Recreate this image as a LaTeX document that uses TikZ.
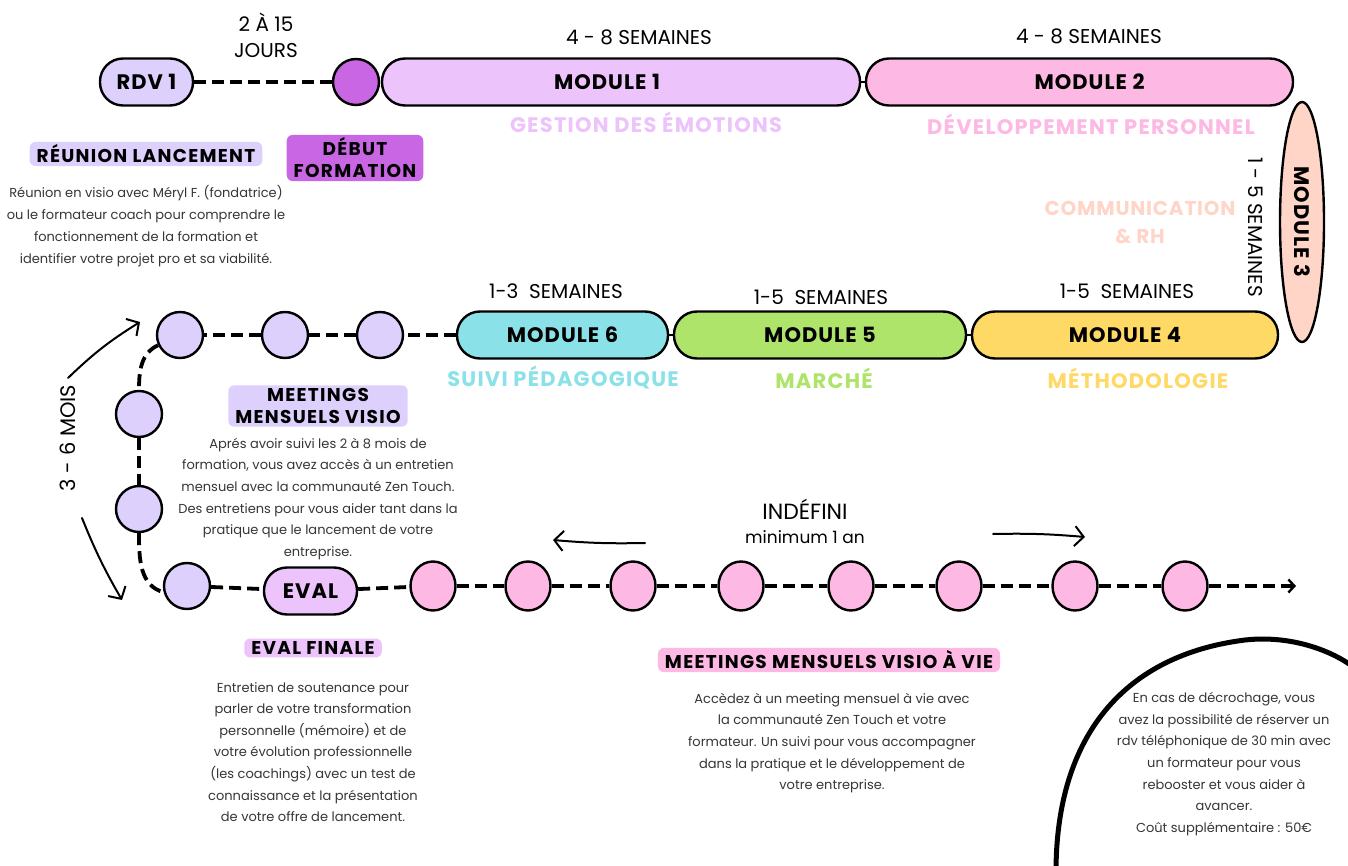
\documentclass[tikz,border=0pt]{standalone}
\usepackage{fontspec}
\setmainfont{Poppins}
\usepackage{xcolor}
\usetikzlibrary{shapes.geometric,arrows.meta,positioning,calc}

\definecolor{cLav}{HTML}{DDD0FC}
\definecolor{cDebut}{HTML}{C966E3}
\definecolor{cMod1}{HTML}{EDC3FB}
\definecolor{cMod2}{HTML}{FDB8E3}
\definecolor{cMod3}{HTML}{FFD5C7}
\definecolor{cMod4}{HTML}{FED966}
\definecolor{cMod5}{HTML}{AEE46A}
\definecolor{cMod6}{HTML}{8AE2E8}
\definecolor{cText}{HTML}{363636}

\begin{document}
\begin{tikzpicture}[x=1pt,y=-1pt,
  pill/.style={draw,line width=2.4pt,rounded corners=23pt,minimum height=47pt,inner sep=0pt,font=\bfseries\fontsize{21}{21}\selectfont\addfontfeatures{LetterSpace=5}},
  dot/.style={draw,circle,line width=2.4pt,minimum size=46pt,inner sep=0pt,fill=cLav},
  pinkdot/.style={draw,ellipse,line width=2.4pt,minimum width=45pt,minimum height=49pt,inner sep=0pt,fill=cMod2},
  tag/.style={rounded corners=6pt,inner xsep=7pt,inner ysep=3pt,align=center,font=\bfseries\fontsize{18.5}{22}\selectfont\addfontfeatures{LetterSpace=7}},
  dur/.style={align=center,font=\fontsize{20}{26}\selectfont},
  theme/.style={align=center,font=\bfseries\fontsize{21}{28}\selectfont\addfontfeatures{LetterSpace=6}},
  body/.style={align=center,text=cText,font=\fontsize{13}{21.6}\selectfont},
  dashlink/.style={line width=3.8pt,dash pattern=on 12pt off 6pt},
  link/.style={line width=2.4pt},
  hand/.style={line width=2pt,line cap=round,-{Straight Barb[length=9pt,width=20pt]}}]
  \clip (0,0) rectangle (1348,866);
  \fill[white] (0,0) rectangle (1348,866);

  % first row
  \node[pill,fill=cLav,minimum width=93pt] (rdv) at (146.5,82) {RDV 1};
  \node[dot,fill=cDebut] (debut) at (356,82) {};
  \node[pill,fill=cMod1,minimum width=478pt] (mod1) at (621,82) {\hspace{-28pt}MODULE 1};
  \node[pill,fill=cMod2,minimum width=427pt] (mod2) at (1079.5,82) {\hspace{20pt}MODULE 2};
  \node[draw,ellipse,line width=2.4pt,fill=cMod3,rotate=-90,minimum width=240pt,minimum height=44pt,inner sep=0pt,font=\bfseries\fontsize{21}{21}\selectfont\addfontfeatures{LetterSpace=5}] (mod3) at (1302,222) {MODULE 3};

  \draw[dashlink] (rdv) -- (debut);
  \draw[link] (mod1) -- (mod2);

  \node[dur] (jours) at (266,35) {2 À 15\\JOURS};
  \node[dur] (dur1) at (639,37) {4 - 8 SEMAINES};
  \node[dur] (dur2) at (1089,36) {4 - 8 SEMAINES};
  \node[dur,rotate=-90] (dur3) at (1256,227) {1 - 5 SEMAINES};
  \node[theme,text=cMod1] (th1) at (646,122) {GESTION DES ÉMOTIONS};
  \node[theme,text=cMod2] (th2) at (1091,124) {DÉVELOPPEMENT PERSONNEL};
  \node[theme,text=cMod3,font=\bfseries\fontsize{20}{28}\selectfont\addfontfeatures{LetterSpace=4}] (th3) at (1140,222) {COMMUNICATION\\\& RH};

  % second row
  \node[pill,fill=cMod4,minimum width=306pt] (mod4) at (1125,335) {MODULE 4};
  \node[pill,fill=cMod5,minimum width=292pt] (mod5) at (820,335) {MODULE 5};
  \node[pill,fill=cMod6,minimum width=211pt] (mod6) at (562.5,335) {MODULE 6};
  \node[dot] (v3) at (380,335) {};
  \node[dot] (v2) at (285,335) {};
  \node[dot] (v1) at (180,335) {};
  \node[dot] (v4) at (139,414) {};
  \node[dot] (v5) at (139,509) {};

  \draw[link] (mod4) -- (mod5);
  \draw[link] (mod5) -- (mod6);
  \draw[dashlink] (mod6) -- (v3);
  \draw[dashlink] (v3) -- (v2);
  \draw[dashlink] (v2) -- (v1);
  \draw[dashlink] (v1.205) to[out=205,in=90] (v4.north);
  \draw[dashlink] (v4) -- (v5);

  \node[dur] (dur6) at (556,291) {1-3\ \ SEMAINES};
  \node[dur] (dur5) at (821,297) {1-5\ \ SEMAINES};
  \node[dur] (dur4) at (1127,291) {1-5\ \ SEMAINES};
  \node[theme,text=cMod6] (th6) at (563,378) {SUIVI PÉDAGOGIQUE};
  \node[theme,text=cMod5] (th5) at (824,378) {MARCHÉ};
  \node[theme,text=cMod4] (th4) at (1138,378) {MÉTHODOLOGIE};

  % third row
  \node[dot] (v6) at (187,586) {};
  \node[pill,fill=cMod1,minimum width=93pt] (eval) at (310.5,591) {EVAL};
  \node[pinkdot] (p1) at (433,586) {};
  \node[pinkdot] (p2) at (528,586) {};
  \node[pinkdot] (p3) at (633,586) {};
  \node[pinkdot] (p4) at (741,586) {};
  \node[pinkdot] (p5) at (851,586) {};
  \node[pinkdot] (p6) at (959,586) {};
  \node[pinkdot] (p7) at (1075,586) {};
  \node[pinkdot] (p8) at (1185,586) {};
  \coordinate (fin) at (1296,586);

  \draw[dashlink] (v5.south) to[out=-90,in=165] (v6.195);
  \draw[dashlink] (v6) -- (eval);
  \draw[dashlink] (eval) -- (p1);
  \draw[dashlink] (p1) -- (p2);
  \draw[dashlink] (p2) -- (p3);
  \draw[dashlink] (p3) -- (p4);
  \draw[dashlink] (p4) -- (p5);
  \draw[dashlink] (p5) -- (p6);
  \draw[dashlink] (p6) -- (p7);
  \draw[dashlink] (p7) -- (p8);
  \draw[dashlink,-{Straight Barb[length=6pt,width=13pt,line width=2.4pt]}] (p8) -- (fin);

  % durations drawn by hand
  \node[dur,rotate=90,font=\fontsize{21}{26}\selectfont] (mois) at (68,438) {3 - 6 MOIS};
  \coordinate (up0) at (68,378);
  \coordinate (up1) at (140,322);
  \coordinate (dn0) at (82,518);
  \coordinate (dn1) at (122,600);
  \draw[hand] (up0) to[bend left=6] (up1);
  \draw[hand] (dn0) to[bend right=4] (dn1);

  \node[dur,font=\fontsize{22}{26}\selectfont] (indef) at (805,509) {INDÉFINI};
  \node[font=\fontsize{17}{20}\selectfont] (minan) at (805,537) {minimum 1 an};
  \coordinate (lt0) at (645,543);
  \coordinate (lt1) at (553,540);
  \coordinate (rt0) at (993,534);
  \coordinate (rt1) at (1085,537);
  \draw[hand] (lt0) to[bend left=3] (lt1);
  \draw[hand] (rt0) to[bend left=3] (rt1);

  % tags and texts
  \node[tag,fill=cLav] (lancement) at (146,154) {RÉUNION LANCEMENT};
  \node[body,font=\fontsize{13}{22}\selectfont] (txtlanc) at (146,226) {Réunion en visio avec Méryl F. (fondatrice)\\ou le formateur coach pour comprendre le\\fonctionnement de la formation et\\identifier votre projet pro et sa viabilité.};
  \node[tag,fill=cDebut] (tdebut) at (355,158) {DÉBUT\\FORMATION};
  \node[tag,fill=cLav] (tvisio) at (318,406) {MEETINGS\\MENSUELS VISIO};
  \node[body] (txtvisio) at (318,499) {Aprés avoir suivi les 2 à 8 mois de\\formation, vous avez accès à un entretien\\mensuel avec la communauté Zen Touch.\\Des entretiens pour vous aider tant dans la\\pratique que le lancement de votre\\entreprise.};
  \node[tag,fill=cMod1] (teval) at (313,648) {EVAL FINALE};
  \node[body] (txteval) at (313,752) {Entretien de soutenance pour\\parler de votre transformation\\personnelle (mémoire) et de\\votre évolution professionnelle\\(les coachings) avec un test de\\connaissance et la présentation\\de votre offre de lancement.};
  \node[tag,fill=cMod2] (tvie) at (829,660) {MEETINGS MENSUELS VISIO À VIE};
  \node[body] (txtvie) at (832,743) {Accèdez à un meeting mensuel à vie avec\\la communauté Zen Touch et votre\\formateur. Un suivi pour vous accompagner\\dans la pratique et le développement de\\votre entreprise.};

  % brush circle
  \draw[line width=5pt,line cap=round] (1056,872) .. controls (1056,735) and (1125,655) .. (1245,640) .. controls (1290,635) and (1330,650) .. (1352,666);
  \node[body] (txtcout) at (1224,764) {En cas de décrochage, vous\\avez la possibilité de réserver un\\rdv téléphonique de 30 min avec\\un formateur pour vous\\rebooster et vous aider à\\avancer.\\Coût supplémentaire : 50€};
\end{tikzpicture}
\end{document}
